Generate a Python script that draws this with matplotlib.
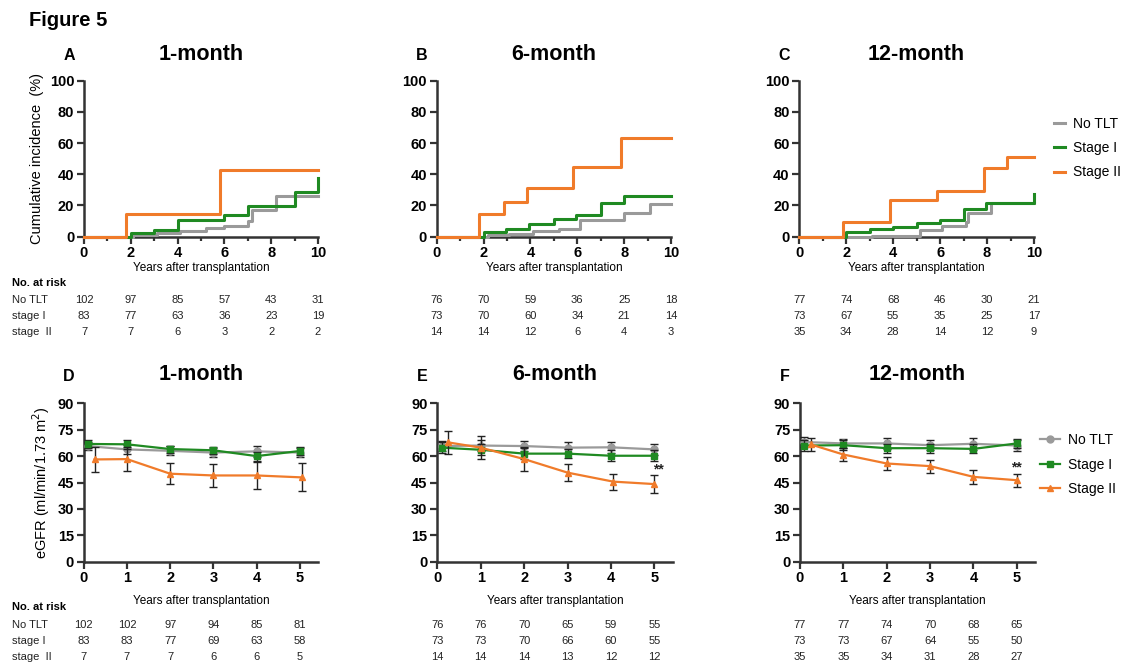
import matplotlib
matplotlib.use("Agg")
import matplotlib.pyplot as plt
import matplotlib.transforms as mtransforms
from matplotlib.ticker import MultipleLocator

plt.rcParams['font.family'] = ['Liberation Sans', 'DejaVu Sans']

#===========================DATA===========================

groups = ["No TLT", "Stage I", "Stage II"]
row_names = ["No TLT", "stage I", "stage  II"]
colors = ["#9a9a9a", "#1f8a22", "#f07b2a"]
titles = ["1-month", "6-month", "12-month"]

# cumulative incidence step curves (years, %)
ci_t = {
    "A": [[0, 2.1, 3.1, 4.1, 5.2, 6.0, 7.0, 7.2, 8.2, 10],
          [0, 2.0, 3.0, 4.0, 6.0, 7.0, 9.0, 10.0],
          [0, 1.8, 5.8, 10]],
    "B": [[0, 2.2, 3.1, 4.1, 5.2, 6.1, 8.0, 9.1, 10],
          [0, 2.0, 2.95, 3.95, 5.0, 5.95, 7.0, 8.0, 10],
          [0, 1.82, 2.89, 3.87, 5.83, 7.85, 10]],
    "C": [[0, 3.1, 5.15, 6.1, 7.1, 7.2, 8.15, 10],
          [0, 2.0, 3.0, 4.0, 5.0, 6.0, 7.0, 7.95, 10],
          [0, 1.85, 3.85, 5.85, 7.85, 8.85, 10]],
}
ci_y = {
    "A": [[0, 1.2, 2.4, 3.7, 5.3, 7.0, 10.2, 16.7, 26.0, 26.0],
          [0, 2.4, 3.9, 10.5, 13.5, 19.5, 28.5, 37.5],
          [0, 14.3, 42.9, 42.9]],
    "B": [[0, 0.8, 1.5, 3.4, 4.9, 10.7, 15.4, 20.7, 20.7],
          [0, 3.2, 5.1, 7.9, 11.3, 13.9, 21.4, 26.0, 26.0],
          [0, 14.3, 22.0, 31.0, 44.9, 63.2, 63.2]],
    "C": [[0, 0.6, 4.3, 6.8, 9.6, 15.0, 21.8, 21.8],
          [0, 3.0, 4.9, 6.4, 8.5, 10.9, 17.7, 21.8, 27.1],
          [0, 9.0, 23.5, 29.5, 43.8, 50.9, 50.9]],
}
ci_risk_years = [0, 2, 4, 6, 8, 10]
ci_risk = {
    "A": [[102, 97, 85, 57, 43, 31], [83, 77, 63, 36, 23, 19], [7, 7, 6, 3, 2, 2]],
    "B": [[76, 70, 59, 36, 25, 18], [73, 70, 60, 34, 21, 14], [14, 14, 12, 6, 4, 3]],
    "C": [[77, 74, 68, 46, 30, 21], [73, 67, 55, 35, 25, 17], [35, 34, 28, 14, 12, 9]],
}

# eGFR means and SEM (years, ml/min/1.73 m2)
egfr_x = {
    "D": [[0.1, 1, 2, 3, 4, 5], [0.1, 1, 2, 3, 4, 5], [0.25, 1.0, 2.0, 3.0, 4.0, 5.05]],
    "E": [[0.1, 1, 2, 3, 4, 5], [0.1, 1, 2, 3, 4, 5], [0.25, 1.0, 2.0, 3.0, 4.05, 5.0]],
    "F": [[0.1, 1, 2, 3, 4, 5], [0.1, 1, 2, 3, 4, 5], [0.25, 1.0, 2.0, 3.0, 4.0, 5.0]],
}
egfr_y = {
    "D": [[65.7, 63.8, 63.0, 62.0, 62.7, 62.0],
          [66.9, 66.7, 64.0, 63.3, 60.0, 62.9],
          [58.1, 58.3, 50.0, 49.0, 49.0, 47.9]],
    "E": [[65.7, 66.0, 65.7, 64.8, 65.0, 63.8],
          [64.8, 63.6, 61.4, 61.4, 60.2, 60.2],
          [67.8, 64.8, 58.3, 50.6, 45.5, 44.1]],
    "F": [[68.0, 67.2, 67.2, 66.2, 67.0, 66.0],
          [66.0, 66.2, 64.5, 64.5, 64.1, 67.2],
          [66.6, 60.9, 55.8, 54.3, 48.2, 46.3]],
}
egfr_err = {
    "D": [[2.5, 2.5, 2.5, 2.5, 3.0, 2.5],
          [2.5, 2.5, 2.0, 2.0, 2.5, 2.0],
          [7.0, 6.6, 6.0, 6.5, 7.5, 8.0]],
    "E": [[3.0, 3.0, 3.0, 3.0, 3.0, 3.0],
          [3.0, 3.0, 3.0, 2.5, 3.0, 3.0],
          [6.7, 6.5, 7.0, 5.0, 4.5, 5.0]],
    "F": [[3.0, 2.5, 3.0, 3.0, 3.5, 3.0],
          [3.0, 3.0, 2.5, 2.5, 2.5, 2.5],
          [3.5, 3.5, 3.5, 3.7, 3.8, 3.7]],
}
egfr_risk_years = [0, 1, 2, 3, 4, 5]
egfr_risk = {
    "D": [[102, 102, 97, 94, 85, 81], [83, 83, 77, 69, 63, 58], [7, 7, 7, 6, 6, 5]],
    "E": [[76, 76, 70, 65, 59, 55], [73, 73, 70, 66, 60, 55], [14, 14, 14, 13, 12, 12]],
    "F": [[77, 77, 74, 70, 68, 65], [73, 73, 67, 64, 55, 50], [35, 35, 34, 31, 28, 27]],
}
stars = {"E": (5.1, 52.5), "F": (5.0, 53.5)}
markers = ["o", "s", "^"]

#===========================LAYOUT===========================
W, H = 1130, 664
fig = plt.figure(figsize=(W / 100, H / 100), dpi=100)

def px(x0, x1, ytop, ybot):
    return [x0 / W, 1 - ybot / H, (x1 - x0) / W, (ybot - ytop) / H]

top_rects = [px(84, 318, 80.7, 236.5), px(436.7, 671, 80.7, 236.5), px(799.3, 1034, 80.7, 236.5)]
bot_rects = [px(83.7, 318, 403.3, 561.7), px(437.3, 672.7, 403.3, 561.7), px(800, 1035, 403.3, 561.7)]

SPINE = "#333333"
TXT = "#222222"

def style_axes(ax):
    for s in ["top", "right"]:
        ax.spines[s].set_visible(False)
    for s in ["left", "bottom"]:
        ax.spines[s].set_linewidth(1.8)
        ax.spines[s].set_color(SPINE)
    ax.tick_params(which="major", length=5, width=1.6, color=SPINE, labelsize=10.5, pad=2)
    ax.tick_params(which="minor", length=3, width=1.6, color=SPINE)
    for lab in ax.get_xticklabels() + ax.get_yticklabels():
        lab.set_fontweight("bold")

def risk_table(ax, years, rows, ys, first):
    tr = mtransforms.blended_transform_factory(ax.transData, fig.transFigure)
    if first:
        fig.text(12 / W, 1 - ys[0] / H, "No. at risk", fontsize=8, fontweight="bold", va="center")
    for i, vals in enumerate(rows):
        y = 1 - ys[i + 1] / H
        if first:
            fig.text(12 / W, y, row_names[i], fontsize=8, va="center", color=TXT)
        for xv, v in zip(years, vals):
            ax.text(xv, y, str(v), transform=tr, fontsize=8, ha="center", va="center", color=TXT)

#===========================CUMULATIVE INCIDENCE===========================
letters_top = ["A", "B", "C"]
for k, key in enumerate(letters_top):
    ax = fig.add_axes(top_rects[k])
    for g in range(3):
        ax.step(ci_t[key][g], ci_y[key][g], where="post", color=colors[g], lw=2.2,
                label=groups[g], clip_on=False, zorder=3)
    ax.set_xlim(0, 10)
    ax.set_ylim(0, 100)
    ax.set_xticks([0, 2, 4, 6, 8, 10])
    ax.xaxis.set_minor_locator(MultipleLocator(1))
    ax.set_yticks([0, 20, 40, 60, 80, 100])
    style_axes(ax)
    ax.set_xlabel("Years after transplantation", fontsize=8.5, labelpad=1)
    if k == 0:
        ax.set_ylabel("Cumulative incidence  (%)", fontsize=10.5, labelpad=4)
    fig.text(ax.get_position().x0 + ax.get_position().width * 0.5, 1 - 55 / H, titles[k],
             fontsize=15.5, fontweight="bold", ha="center", va="center")
    fig.text(ax.get_position().x0 - 15 / W, 1 - 55 / H, key, fontsize=11.5, fontweight="bold",
             ha="center", va="center")
    risk_table(ax, ci_risk_years, ci_risk[key], [283, 300, 316, 332], k == 0)
    if k == 2:
        ax.legend(loc="upper left", bbox_to_anchor=(1.03, 0.85), frameon=False,
                  fontsize=10, handlelength=0.8, handletextpad=0.6, labelspacing=0.75)

#===========================eGFR===========================
letters_bot = ["D", "E", "F"]
for k, key in enumerate(letters_bot):
    ax = fig.add_axes(bot_rects[k])
    handles = []
    for g in range(3):
        cont = ax.errorbar(egfr_x[key][g], egfr_y[key][g], yerr=egfr_err[key][g], color=colors[g],
                           ecolor=TXT, elinewidth=1.0, capsize=3, capthick=1.0, lw=1.6,
                           marker=markers[g], markersize=5 if g < 2 else 4.5,
                           clip_on=False, zorder=3 + g)
        handles.append(cont.lines[0])
    ax.set_xlim(0, 5.42)
    ax.set_ylim(0, 90)
    ax.set_xticks([0, 1, 2, 3, 4, 5])
    ax.set_yticks([0, 15, 30, 45, 60, 75, 90])
    style_axes(ax)
    ax.set_xlabel("Years after transplantation", fontsize=8.5, labelpad=7)
    if k == 0:
        ax.set_ylabel("eGFR (ml/min/1.73 m$^2$)", fontsize=10.5, labelpad=4)
    if key in stars:
        ax.text(stars[key][0], stars[key][1], "**", fontsize=10, fontweight="bold",
                ha="center", va="center", color=TXT)
    fig.text(ax.get_position().x0 + ax.get_position().width * 0.5, 1 - 375 / H, titles[k],
             fontsize=15.5, fontweight="bold", ha="center", va="center")
    fig.text(ax.get_position().x0 - 15 / W, 1 - 376 / H, key, fontsize=11.5, fontweight="bold",
             ha="center", va="center")
    risk_table(ax, egfr_risk_years, egfr_risk[key], [607, 625, 641, 657], k == 0)
    if k == 2:
        ax.legend(handles, groups, loc="upper left", bbox_to_anchor=(0.97, 0.89), frameon=False,
                  fontsize=10, handlelength=1.4, handletextpad=0.6, labelspacing=0.75)

fig.text(29 / W, 1 - 20 / H, "Figure 5", fontsize=14.5, fontweight="bold", va="center")

plt.savefig("out.png", dpi=100)
